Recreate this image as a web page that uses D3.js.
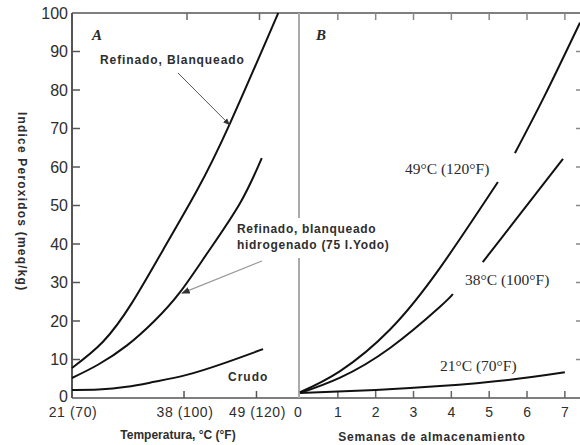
<!DOCTYPE html>
<html>
<head>
<meta charset="utf-8">
<script src="https://cdnjs.cloudflare.com/ajax/libs/d3/7.8.5/d3.min.js"></script>
<style>
  body { margin:0; background:#fff; }
  .sans { font-family:"Liberation Sans", Arial, sans-serif; fill:#2e2e2e; }
  .serif { font-family:"Liberation Serif", "Times New Roman", serif; fill:#2a2a2a; }
</style>
</head>
<body>
<div id="chart"></div>
<script>
var w=580, h=445;

//Axis ticks
var yTicks=[0,10,20,30,40,50,60,70,80,90,100];
var tempTicks=[21,38,49];
var tempTickLabels=["21 (70)","38 (100)","49 (120)"];
var weekTicks=[0,1,2,3,4,5,6,7];

//Panel A: temperature (C) vs peroxide value
var refBlanq=[[21,7.8],[25.7,14.6],[30.1,24.7],[34.8,38.4],[40,54],[45,71.4],[52.3,100]];
var refHidrog=[[21,5.2],[25,8.7],[29.3,13.6],[33.5,20],[37.4,27.5],[41.6,37.8],[46.5,50.6],[49.8,62.3]];
var crudo=[[21,2.1],[25,2.2],[29.3,2.9],[33.5,4.2],[38.4,6.0],[44,9.0],[50,12.7]];

//Panel B: storage weeks vs peroxide value (null = gap for label)
var c49=[[0,1.5],[1.06,7.0],[2.38,17.8],[3.7,33.8],[5.23,56.1],null,[5.68,63.6],[6.47,78.6],[7.4,97.5]];
var c38=[[0,1.3],[1.06,5.3],[2.38,13.0],[3.7,23.7],[4.04,27.0],null,[4.83,35.3],[6.95,62.1]];
var c21=[[0,1.3],[2,2.1],[3.7,3.1],[5.5,4.7],[7,6.7]];

var svg=d3.select("#chart").append("svg").attr("width",w).attr("height",h);

//Scales
var yScale=d3.scaleLinear().domain([0,100]).range([398,13]);
var xA=d3.scaleLinear().domain([21,55.3]).range([72,298]);
var xB=d3.scaleLinear().domain([0,7.4]).range([300,580]);

//Frame lines
svg.append("line").attr("x1",xA.range()[0]).attr("x2",w).attr("y1",yScale(100)).attr("y2",yScale(100))
   .style("stroke","#555").style("stroke-width",1.5);
svg.append("line").attr("x1",xA.range()[0]).attr("x2",w).attr("y1",yScale(0)).attr("y2",yScale(0))
   .style("stroke","#555").style("stroke-width",1.5);
svg.append("line").attr("x1",xA.range()[0]).attr("x2",xA.range()[0]).attr("y1",yScale(100)).attr("y2",yScale(0))
   .style("stroke","#555").style("stroke-width",2);
//Divider between panels, broken where the label crosses
svg.append("line").attr("x1",299).attr("x2",299).attr("y1",yScale(100)).attr("y2",218)
   .style("stroke","#aaa").style("stroke-width",2);
svg.append("line").attr("x1",299).attr("x2",299).attr("y1",258).attr("y2",yScale(0))
   .style("stroke","#aaa").style("stroke-width",2);

//Y ticks, panel A (inward) and right edge of panel B
svg.append("g").selectAll("line").data(yTicks.slice(1,-1)).enter().append("line")
   .attr("x1",xA.range()[0]).attr("x2",xA.range()[0]+8)
   .attr("y1",function(d){return yScale(d);}).attr("y2",function(d){return yScale(d);})
   .style("stroke","#555").style("stroke-width",1.5);
svg.append("g").selectAll("line").data(yTicks.slice(1,-1)).enter().append("line")
   .attr("x1",w-4).attr("x2",w)
   .attr("y1",function(d){return yScale(d);}).attr("y2",function(d){return yScale(d);})
   .style("stroke","#888").style("stroke-width",1.5);
svg.append("g").selectAll("text").data(yTicks).enter().append("text")
   .attr("class","sans")
   .attr("x",68).attr("y",function(d){return yScale(d)-(d==0?2:0);})
   .attr("text-anchor","end").attr("dominant-baseline","central")
   .style("font-size","16px")
   .text(function(d){return d;});

//X ticks panel A (top and bottom, inward)
svg.append("g").selectAll("line").data(tempTicks.slice(1)).enter().append("line")
   .attr("x1",function(d){return xA(d);}).attr("x2",function(d){return xA(d);})
   .attr("y1",yScale(0)).attr("y2",yScale(0)-7)
   .style("stroke","#555").style("stroke-width",1.5);
svg.append("g").selectAll("line").data(tempTicks.slice(1)).enter().append("line")
   .attr("x1",function(d){return xA(d)+3;}).attr("x2",function(d){return xA(d)+3;})
   .attr("y1",yScale(100)).attr("y2",yScale(100)+7)
   .style("stroke","#666").style("stroke-width",1.5);
svg.append("g").selectAll("text").data(tempTicks).enter().append("text")
   .attr("class","sans")
   .attr("x",function(d){return xA(d)+1;}).attr("y",412)
   .attr("text-anchor","middle").attr("dominant-baseline","central")
   .style("font-size","14px").style("letter-spacing","0.6px")
   .text(function(d,i){return tempTickLabels[i];});

//X ticks panel B
svg.append("g").selectAll("line").data(weekTicks.slice(1)).enter().append("line")
   .attr("x1",function(d){return xB(d);}).attr("x2",function(d){return xB(d);})
   .attr("y1",yScale(0)).attr("y2",yScale(0)-7)
   .style("stroke","#666").style("stroke-width",1.5);
svg.append("g").selectAll("line").data(weekTicks.slice(1)).enter().append("line")
   .attr("x1",function(d){return xB(d);}).attr("x2",function(d){return xB(d);})
   .attr("y1",yScale(100)).attr("y2",yScale(100)+7)
   .style("stroke","#888").style("stroke-width",1.5);
svg.append("g").selectAll("text").data(weekTicks).enter().append("text")
   .attr("class","sans")
   .attr("x",function(d){return xB(d)-(d==0?2:0);}).attr("y",412)
   .attr("text-anchor","middle").attr("dominant-baseline","central")
   .style("font-size","14px")
   .text(function(d){return d;});

//Axis titles
svg.append("text").attr("class","sans")
   .attr("transform","translate(22,"+yScale(51)+") rotate(90)")
   .attr("text-anchor","middle").attr("dominant-baseline","central")
   .style("font-size","12px").style("font-weight","bold").style("letter-spacing","1.2px")
   .text("Indice Peroxidos (meq/kg)");
svg.append("text").attr("class","sans")
   .attr("x",178).attr("y",435)
   .attr("text-anchor","middle").attr("dominant-baseline","central")
   .style("font-size","12px").style("font-weight","bold")
   .text("Temperatura, °C (°F)");
svg.append("text").attr("class","sans")
   .attr("x",432).attr("y",437)
   .attr("text-anchor","middle").attr("dominant-baseline","central")
   .style("font-size","12px").style("font-weight","bold").style("letter-spacing","0.8px")
   .text("Semanas de almacenamiento");

//Curves
var lineA=d3.line().x(function(d){return xA(d[0]);}).y(function(d){return yScale(d[1]);})
            .curve(d3.curveNatural);
var lineB=d3.line().defined(function(d){return d!=null;})
            .x(function(d){return xB(d[0]);}).y(function(d){return yScale(d[1]);})
            .curve(d3.curveNatural);

[refBlanq,refHidrog,crudo].forEach(function(s){
  svg.append("path").attr("d",lineA(s))
     .style("fill","none").style("stroke","#111").style("stroke-width",2);
});
[c49,c38,c21].forEach(function(s){
  svg.append("path").attr("d",lineB(s))
     .style("fill","none").style("stroke","#111").style("stroke-width",2);
});

//Arrows for panel A labels
svg.append("defs").append("marker").attr("id","arr")
   .attr("viewBox","0 0 10 10").attr("refX",9).attr("refY",5)
   .attr("markerWidth",7).attr("markerHeight",7).attr("orient","auto")
   .append("path").attr("d","M0,1L10,5L0,9z").style("fill","#333");
svg.append("line").attr("x1",178).attr("y1",73).attr("x2",xA(44.9)).attr("y2",yScale(71))
   .style("stroke","#555").style("stroke-width",1).attr("marker-end","url(#arr)");
svg.append("line").attr("x1",262).attr("y1",261).attr("x2",xA(37.4)+2).attr("y2",yScale(27.5)+1)
   .style("stroke","#999").style("stroke-width",1.2).attr("marker-end","url(#arr)");

//Panel labels
svg.append("text").attr("class","serif").attr("x",92).attr("y",40)
   .style("font-size","15px").style("font-style","italic").style("font-weight","bold").text("A");
svg.append("text").attr("class","serif").attr("x",316).attr("y",40)
   .style("font-size","15px").style("font-style","italic").style("font-weight","bold").text("B");

//Curve labels panel A
svg.append("text").attr("class","sans").attr("x",100).attr("y",64)
   .style("font-size","12px").style("font-weight","bold").style("letter-spacing","0.9px")
   .text("Refinado, Blanqueado");
svg.append("text").attr("class","sans").attr("x",237).attr("y",233)
   .style("font-size","12px").style("font-weight","bold").style("letter-spacing","0.7px")
   .text("Refinado, blanqueado");
svg.append("text").attr("class","sans").attr("x",237).attr("y",249)
   .style("font-size","12px").style("font-weight","bold").style("letter-spacing","0.7px")
   .text("hidrogenado (75 I.Yodo)");
svg.append("text").attr("class","sans").attr("x",228).attr("y",381)
   .style("font-size","12px").style("font-weight","bold").style("letter-spacing","1px")
   .text("Crudo");

//Curve labels panel B
svg.append("text").attr("class","serif").attr("x",405).attr("y",174)
   .style("font-size","15.5px").text("49°C (120°F)");
svg.append("text").attr("class","serif").attr("x",465).attr("y",285)
   .style("font-size","15.5px").text("38°C (100°F)");
svg.append("text").attr("class","serif").attr("x",440).attr("y",371)
   .style("font-size","15.5px").text("21°C (70°F)");
</script>
</body>
</html>
